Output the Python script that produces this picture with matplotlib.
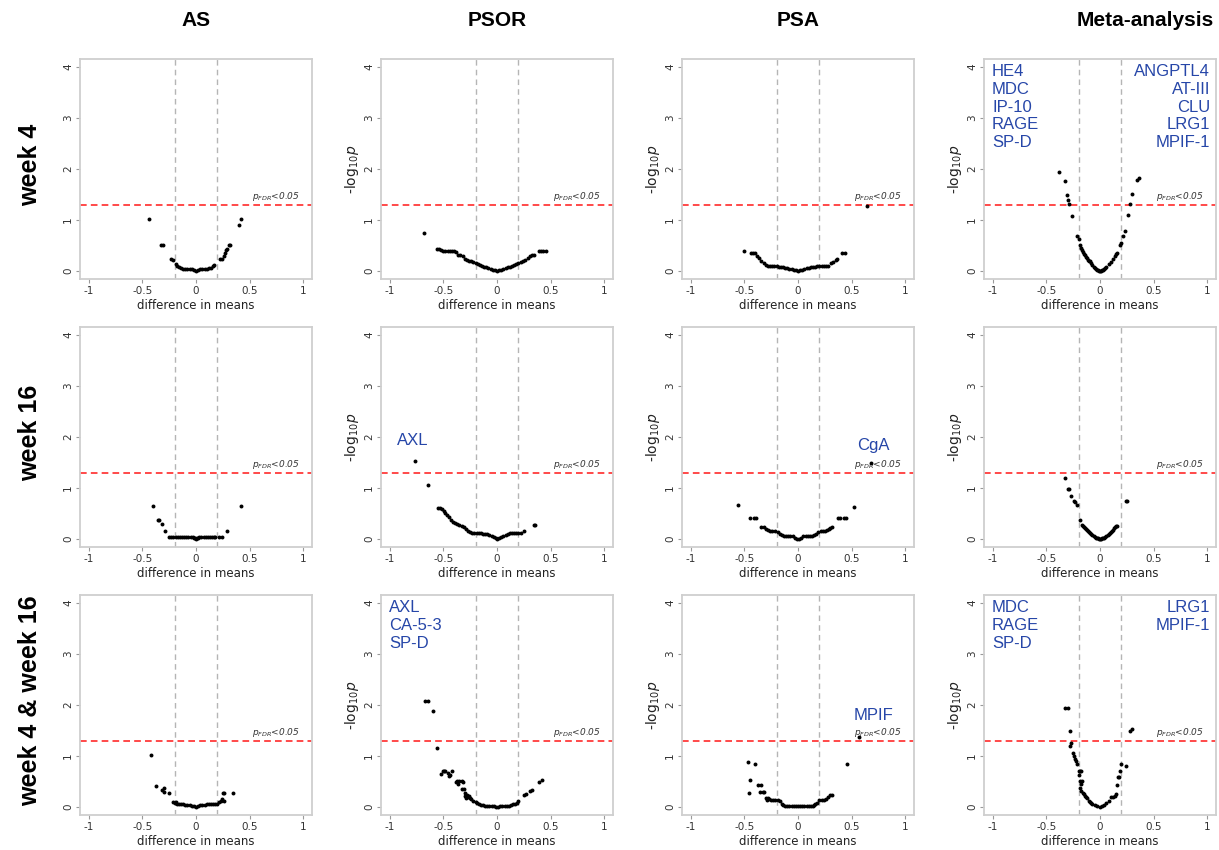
import matplotlib
matplotlib.use('Agg')
import matplotlib.pyplot as plt


# column / row headers
COLS = ['AS', 'PSOR', 'PSA', 'Meta-analysis']
ROWS = ['week 4', 'week 16', 'week 4 & week 16']

# week 4
AS_W4_X = [-0.44, -0.33, -0.31, -0.23, -0.21, -0.19, -0.18, -0.16, -0.14, -0.12, -0.10, -0.08, -0.06, -0.04, -0.02,
           0.0, 0.02, 0.04, 0.06, 0.08, 0.10, 0.12, 0.14, 0.16, 0.17, 0.22, 0.24, 0.26, 0.27, 0.28, 0.29, 0.31, 0.32, 0.40, 0.42]
AS_W4_Y = [1.01, 0.51, 0.51, 0.23, 0.22, 0.13, 0.10, 0.07, 0.05, 0.04, 0.04, 0.04, 0.03, 0.03, 0.02,
           0.0, 0.02, 0.03, 0.04, 0.04, 0.04, 0.05, 0.06, 0.09, 0.11, 0.23, 0.23, 0.30, 0.35, 0.40, 0.43, 0.50, 0.51, 0.90, 1.01]

PSOR_W4_X = [-0.68, -0.56, -0.54, -0.52, -0.50, -0.48, -0.46, -0.44, -0.42, -0.40, -0.38, -0.36, -0.34, -0.32, -0.30,
             -0.28, -0.26, -0.24, -0.22, -0.20, -0.18, -0.16, -0.14, -0.12, -0.10, -0.08, -0.06, -0.04, -0.02, 0.0,
             0.02, 0.04, 0.06, 0.08, 0.10, 0.12, 0.14, 0.16, 0.18, 0.20, 0.22, 0.24, 0.26, 0.29, 0.31, 0.33, 0.34,
             0.39, 0.41, 0.43, 0.46]
PSOR_W4_Y = [0.75, 0.42, 0.42, 0.41, 0.39, 0.39, 0.39, 0.39, 0.39, 0.39, 0.38, 0.31, 0.31, 0.30, 0.24,
             0.22, 0.20, 0.19, 0.17, 0.16, 0.14, 0.12, 0.10, 0.08, 0.07, 0.05, 0.04, 0.02, 0.01, 0.0,
             0.01, 0.02, 0.03, 0.05, 0.07, 0.08, 0.10, 0.12, 0.14, 0.16, 0.18, 0.20, 0.21, 0.25, 0.30, 0.31, 0.31,
             0.39, 0.39, 0.39, 0.39]

PSA_W4_X = [-0.50, -0.44, -0.42, -0.40, -0.38, -0.36, -0.34, -0.32, -0.30, -0.28, -0.26, -0.24, -0.22, -0.20, -0.18,
            -0.16, -0.14, -0.12, -0.10, -0.08, -0.06, -0.04, -0.02, 0.0, 0.02, 0.04, 0.06, 0.08, 0.10, 0.12,
            0.14, 0.16, 0.18, 0.20, 0.22, 0.24, 0.26, 0.28, 0.31, 0.33, 0.35, 0.36, 0.41, 0.44, 0.64]
PSA_W4_Y = [0.39, 0.35, 0.35, 0.35, 0.30, 0.25, 0.20, 0.16, 0.12, 0.09, 0.09, 0.09, 0.09, 0.09, 0.08,
            0.08, 0.07, 0.06, 0.05, 0.04, 0.03, 0.02, 0.02, 0.0, 0.02, 0.02, 0.03, 0.05, 0.06, 0.07,
            0.08, 0.08, 0.09, 0.09, 0.09, 0.09, 0.09, 0.10, 0.15, 0.18, 0.21, 0.23, 0.35, 0.35, 1.27]

META_W4_X = [-0.38, -0.33, -0.31, -0.30, -0.29, -0.26, -0.21, -0.20, -0.19, -0.18, -0.17, -0.16, -0.15, -0.14, -0.13,
             -0.12, -0.11, -0.10, -0.09, -0.08, -0.07, -0.06, -0.05, -0.04, -0.03, -0.02, -0.01, 0.0, 0.01, 0.02,
             0.03, 0.04, 0.05, 0.06, 0.08, 0.10, 0.12, 0.14, 0.15, 0.16, 0.19, 0.20, 0.21, 0.23, 0.26, 0.28, 0.30,
             0.34, 0.36]
META_W4_Y = [1.94, 1.76, 1.49, 1.40, 1.31, 1.08, 0.68, 0.62, 0.50, 0.45, 0.41, 0.37, 0.34, 0.31, 0.28,
             0.25, 0.22, 0.20, 0.19, 0.15, 0.12, 0.08, 0.06, 0.03, 0.02, 0.01, 0.0, 0.0, 0.0, 0.01,
             0.02, 0.03, 0.05, 0.08, 0.13, 0.18, 0.23, 0.29, 0.33, 0.35, 0.50, 0.55, 0.68, 0.79, 1.10, 1.31, 1.50,
             1.78, 1.83]

# week 16
AS_W16_X = [-0.40, -0.35, -0.34, -0.32, -0.29, -0.25, -0.23, -0.21, -0.19, -0.17, -0.15, -0.13, -0.11, -0.09, -0.07,
            -0.05, -0.03, -0.02, -0.01, 0.0, 0.01, 0.02, 0.03, 0.05, 0.07, 0.09, 0.11, 0.13, 0.15, 0.17,
            0.18, 0.21, 0.24, 0.29, 0.42]
AS_W16_Y = [0.65, 0.37, 0.37, 0.29, 0.16, 0.04, 0.04, 0.04, 0.04, 0.04, 0.04, 0.04, 0.04, 0.04, 0.04,
            0.04, 0.03, 0.02, 0.01, 0.0, 0.01, 0.02, 0.03, 0.04, 0.04, 0.04, 0.04, 0.04, 0.04, 0.04,
            0.04, 0.04, 0.04, 0.16, 0.65]

PSOR_W16_X = [-0.76, -0.64, -0.55, -0.53, -0.51, -0.49, -0.48, -0.47, -0.45, -0.43, -0.41, -0.39, -0.37, -0.35, -0.33,
              -0.31, -0.29, -0.27, -0.25, -0.23, -0.21, -0.19, -0.17, -0.15, -0.13, -0.11, -0.09, -0.07, -0.05, -0.03,
              -0.01, 0.0, 0.02, 0.04, 0.06, 0.08, 0.10, 0.12, 0.14, 0.16, 0.18, 0.20, 0.22, 0.25, 0.34, 0.35]
PSOR_W16_Y = [1.52, 1.05, 0.60, 0.60, 0.58, 0.55, 0.51, 0.47, 0.42, 0.37, 0.33, 0.32, 0.30, 0.28, 0.26,
              0.23, 0.20, 0.16, 0.13, 0.12, 0.12, 0.11, 0.11, 0.11, 0.10, 0.10, 0.09, 0.07, 0.05, 0.03,
              0.01, 0.0, 0.02, 0.04, 0.06, 0.08, 0.10, 0.11, 0.11, 0.11, 0.11, 0.11, 0.12, 0.15, 0.27, 0.27]

PSA_W16_X = [-0.56, -0.45, -0.41, -0.39, -0.34, -0.32, -0.30, -0.28, -0.26, -0.24, -0.21, -0.19, -0.17, -0.15, -0.13,
             -0.11, -0.09, -0.07, -0.05, -0.03, -0.01, 0.01, 0.03, 0.05, 0.07, 0.09, 0.11, 0.13, 0.15, 0.17,
             0.19, 0.21, 0.23, 0.25, 0.27, 0.29, 0.30, 0.32, 0.37, 0.39, 0.43, 0.45, 0.52, 0.68]
PSA_W16_Y = [0.66, 0.40, 0.40, 0.40, 0.24, 0.23, 0.20, 0.17, 0.15, 0.15, 0.15, 0.13, 0.10, 0.08, 0.05,
             0.05, 0.05, 0.05, 0.05, 0.02, 0.0, 0.0, 0.02, 0.05, 0.05, 0.05, 0.05, 0.05, 0.08, 0.10,
             0.13, 0.15, 0.15, 0.15, 0.17, 0.20, 0.22, 0.24, 0.40, 0.40, 0.40, 0.40, 0.63, 1.48]

META_W16_X = [-0.33, -0.30, -0.29, -0.27, -0.24, -0.23, -0.21, -0.19, -0.17, -0.16, -0.15, -0.14, -0.13, -0.12, -0.11,
              -0.10, -0.09, -0.08, -0.07, -0.06, -0.05, -0.04, -0.03, -0.02, -0.01, 0.0, 0.01, 0.02, 0.03, 0.04,
              0.05, 0.06, 0.07, 0.08, 0.09, 0.10, 0.11, 0.12, 0.13, 0.14, 0.15, 0.16, 0.24, 0.25]
META_W16_Y = [1.20, 0.98, 0.98, 0.84, 0.75, 0.72, 0.66, 0.38, 0.27, 0.25, 0.24, 0.21, 0.19, 0.17, 0.15,
              0.13, 0.11, 0.09, 0.07, 0.05, 0.04, 0.02, 0.01, 0.01, 0.0, 0.0, 0.0, 0.01, 0.01, 0.02,
              0.04, 0.05, 0.07, 0.09, 0.11, 0.13, 0.15, 0.18, 0.21, 0.23, 0.25, 0.26, 0.74, 0.75]

# week 4 & week 16
AS_BOTH_X = [-0.42, -0.37, -0.32, -0.30, -0.30, -0.25, -0.21, -0.20, -0.19, -0.18, -0.16, -0.14, -0.12, -0.10, -0.08,
             -0.06, -0.04, -0.02, 0.0, 0.02, 0.04, 0.06, 0.08, 0.10, 0.12, 0.14, 0.16, 0.18, 0.20, 0.21,
             0.23, 0.24, 0.25, 0.26, 0.26, 0.34]
AS_BOTH_Y = [1.01, 0.41, 0.34, 0.38, 0.29, 0.27, 0.10, 0.07, 0.09, 0.06, 0.05, 0.05, 0.05, 0.04, 0.04,
             0.03, 0.02, 0.01, 0.0, 0.02, 0.03, 0.04, 0.04, 0.05, 0.05, 0.05, 0.05, 0.05, 0.06, 0.09,
             0.12, 0.16, 0.27, 0.27, 0.11, 0.28]

PSOR_BOTH_X = [-0.67, -0.645, -0.60, -0.56, -0.52, -0.50, -0.49, -0.48, -0.46, -0.45, -0.44, -0.42, -0.38, -0.37, -0.36,
               -0.35, -0.33, -0.33, -0.32, -0.31, -0.30, -0.30, -0.29, -0.28, -0.27, -0.26, -0.25, -0.24, -0.22, -0.20,
               -0.19, -0.17, -0.15, -0.13, -0.11, -0.09, -0.07, -0.05, -0.03, -0.01, 0.01, 0.03, 0.05, 0.07, 0.09,
               0.11, 0.13, 0.15, 0.17, 0.19, 0.20, 0.25, 0.27, 0.31, 0.33, 0.39, 0.42]
PSOR_BOTH_Y = [2.07, 2.07, 1.88, 1.15, 0.64, 0.70, 0.70, 0.70, 0.66, 0.60, 0.63, 0.70, 0.48, 0.50, 0.45,
               0.50, 0.50, 0.35, 0.48, 0.35, 0.28, 0.22, 0.18, 0.24, 0.20, 0.22, 0.18, 0.15, 0.12, 0.10,
               0.08, 0.06, 0.04, 0.03, 0.02, 0.01, 0.01, 0.01, 0.01, 0.0, 0.0, 0.01, 0.01, 0.01, 0.01,
               0.02, 0.03, 0.05, 0.06, 0.08, 0.11, 0.24, 0.25, 0.32, 0.33, 0.48, 0.53]

PSA_BOTH_X = [-0.47, -0.46, -0.45, -0.40, -0.37, -0.35, -0.34, -0.33, -0.32, -0.30, -0.29, -0.28, -0.27, -0.25, -0.23,
              -0.21, -0.19, -0.17, -0.15, -0.14, -0.12, -0.10, -0.08, -0.06, -0.04, -0.02, 0.0, 0.02, 0.04, 0.06,
              0.08, 0.10, 0.12, 0.14, 0.15, 0.16, 0.18, 0.20, 0.22, 0.24, 0.26, 0.28, 0.30, 0.32, 0.46, 0.57]
PSA_BOTH_Y = [0.89, 0.28, 0.52, 0.85, 0.42, 0.29, 0.42, 0.29, 0.29, 0.17, 0.14, 0.17, 0.16, 0.14, 0.14,
              0.13, 0.14, 0.12, 0.05, 0.03, 0.02, 0.01, 0.01, 0.01, 0.01, 0.01, 0.01, 0.01, 0.01, 0.01,
              0.01, 0.01, 0.01, 0.01, 0.03, 0.05, 0.08, 0.13, 0.14, 0.14, 0.15, 0.19, 0.23, 0.23, 0.85, 1.38]

META_BOTH_X = [-0.33, -0.295, -0.28, -0.28, -0.27, -0.25, -0.24, -0.23, -0.22, -0.21, -0.20, -0.19, -0.18, -0.20, -0.19,
               -0.18, -0.17, -0.19, -0.18, -0.16, -0.15, -0.14, -0.13, -0.12, -0.10, -0.09, -0.08, -0.07, -0.05, -0.03,
               0.0, 0.02, 0.04, 0.06, 0.08, 0.10, 0.12, 0.14, 0.15, 0.16, 0.17, 0.18, 0.19, 0.20, 0.24, 0.28, 0.30]
META_BOTH_Y = [1.94, 1.94, 1.48, 1.20, 1.25, 1.06, 1.00, 0.93, 0.90, 0.85, 0.70, 0.70, 0.70, 0.62, 0.50,
               0.45, 0.50, 0.38, 0.32, 0.28, 0.25, 0.22, 0.20, 0.18, 0.12, 0.10, 0.08, 0.05, 0.04, 0.02,
               0.0, 0.02, 0.04, 0.07, 0.12, 0.20, 0.20, 0.21, 0.25, 0.42, 0.58, 0.58, 0.70, 0.84, 0.80, 1.48, 1.52]

# significant markers written on the panels
META_W4_LEFT = ['HE4', 'MDC', 'IP-10', 'RAGE', 'SP-D']
META_W4_RIGHT = ['ANGPTL4', 'AT-III', 'CLU', 'LRG1', 'MPIF-1']
PSOR_W16_LABEL = ['AXL']
PSA_W16_LABEL = ['CgA']
PSOR_BOTH_LEFT = ['AXL', 'CA-5-3', 'SP-D']
PSA_BOTH_LABEL = ['MPIF']
META_BOTH_LEFT = ['MDC', 'RAGE', 'SP-D']
META_BOTH_RIGHT = ['LRG1', 'MPIF-1']

FC_CUT = 0.2
P_CUT = 1.3  # -log10(0.05)
BLUE = '#2646a8'
LABEL_FONT = ['Liberation Sans', 'DejaVu Sans']

PANELS = [
    [(AS_W4_X, AS_W4_Y), (PSOR_W4_X, PSOR_W4_Y), (PSA_W4_X, PSA_W4_Y), (META_W4_X, META_W4_Y)],
    [(AS_W16_X, AS_W16_Y), (PSOR_W16_X, PSOR_W16_Y), (PSA_W16_X, PSA_W16_Y), (META_W16_X, META_W16_Y)],
    [(AS_BOTH_X, AS_BOTH_Y), (PSOR_BOTH_X, PSOR_BOTH_Y), (PSA_BOTH_X, PSA_BOTH_Y), (META_BOTH_X, META_BOTH_Y)],
]

W, H = 1219, 850
COL_LEFT = [80, 381, 682, 984]
ROW_TOP = [59, 327, 595]
AX_W, AX_H = 232, 220
TITLE_X = [196, 497, 798, 1145]


def volcano(ax, x, y, ylab=True):
    ax.set_xlim(-1.08, 1.08)
    ax.set_ylim(-0.16, 4.16)
    ax.axvline(-FC_CUT, color='#b5b5b5', ls=(0, (4, 3)), lw=1, zorder=1)
    ax.axvline(FC_CUT, color='#b5b5b5', ls=(0, (4, 3)), lw=1, zorder=1)
    ax.axhline(P_CUT, color='#ff2a2a', ls=(0, (4, 2.5)), lw=1.2, zorder=1)
    ax.text(0.52, P_CUT + 0.04, r'$p_{FDR}$<0.05', fontsize=6.5, style='italic', color='#333333', va='bottom')
    ax.scatter(x, y, s=8, color='black', linewidths=0, zorder=3)
    ax.set_xticks([-1, -0.5, 0, 0.5, 1])
    ax.set_xticklabels(['-1', '-0.5', '0', '0.5', '1'])
    ax.set_yticks([0, 1, 2, 3, 4])
    for lbl in ax.get_yticklabels():
        lbl.set_rotation(90)
        lbl.set_va('center')
    ax.tick_params(labelsize=7.5, colors='#333333', length=3, width=0.8, pad=2)
    ax.tick_params(axis='both', color='#9a9a9a')
    for s in ax.spines.values():
        s.set_color('#cfcfcf')
        s.set_linewidth(1.3)
    ax.set_xlabel('difference in means', fontsize=8.5, color='#222222', labelpad=2)
    if ylab:
        ax.set_ylabel(r'-log$_{10}$$p$', fontsize=10, color='#222222', labelpad=2)


def corner_text(ax, lines, side):
    if side == 'left':
        ax.text(0.035, 0.975, '\n'.join(lines), transform=ax.transAxes, ha='left', va='top',
                fontsize=12, color=BLUE, family=LABEL_FONT, linespacing=1.22)
    else:
        ax.text(0.975, 0.975, '\n'.join(lines), transform=ax.transAxes, ha='right', va='top',
                fontsize=12, color=BLUE, family=LABEL_FONT, linespacing=1.22)


fig = plt.figure(figsize=(W / 100, H / 100), dpi=100)
axes = []
for r in range(3):
    row = []
    for c in range(4):
        ax = fig.add_axes([COL_LEFT[c] / W, 1 - (ROW_TOP[r] + AX_H) / H, AX_W / W, AX_H / H])
        x, y = PANELS[r][c]
        volcano(ax, x, y, ylab=(c > 0))
        row.append(ax)
    axes.append(row)

corner_text(axes[0][3], META_W4_LEFT, 'left')
corner_text(axes[0][3], META_W4_RIGHT, 'right')
axes[1][1].text(-0.93, 1.93, '\n'.join(PSOR_W16_LABEL), ha='left', va='center', fontsize=12, color=BLUE, family=LABEL_FONT)
axes[1][2].text(0.70, 1.84, '\n'.join(PSA_W16_LABEL), ha='center', va='center', fontsize=12, color=BLUE, family=LABEL_FONT)
corner_text(axes[2][1], PSOR_BOTH_LEFT, 'left')
axes[2][2].text(0.70, 1.79, '\n'.join(PSA_BOTH_LABEL), ha='center', va='center', fontsize=12, color=BLUE, family=LABEL_FONT)
corner_text(axes[2][3], META_BOTH_LEFT, 'left')
corner_text(axes[2][3], META_BOTH_RIGHT, 'right')

for c, name in enumerate(COLS):
    fig.text(TITLE_X[c] / W, 1 - 20 / H, name, ha='center', va='center',
             fontsize=15, fontweight='bold', family=LABEL_FONT)
for r, name in enumerate(ROWS):
    fig.text(30 / W, 1 - (ROW_TOP[r] + AX_H / 2 - 4) / H, name, ha='center', va='center', rotation=90,
             fontsize=18, fontweight='bold', family=LABEL_FONT)

fig.savefig('out.png', dpi=100)
